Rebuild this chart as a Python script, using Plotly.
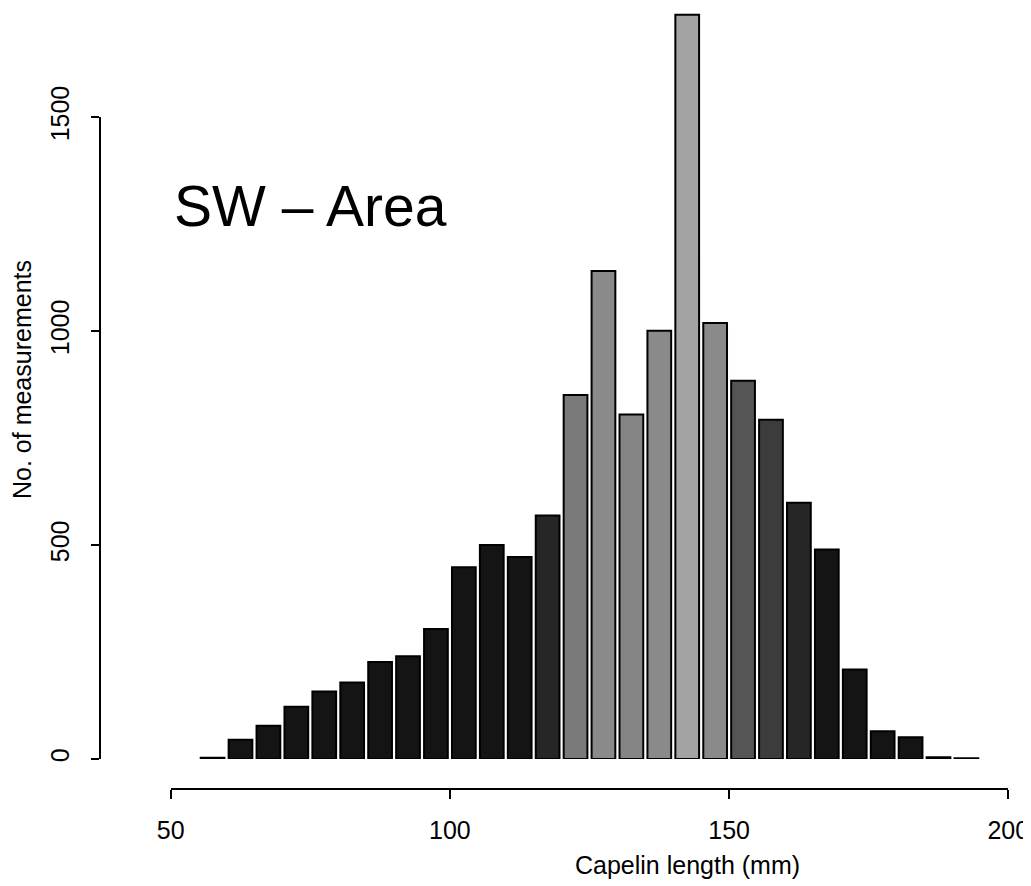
import plotly.graph_objects as go

# ---- data ----
length_bins = [57.5, 62.5, 67.5, 72.5, 77.5, 82.5, 87.5, 92.5, 97.5, 102.5,
               107.5, 112.5, 117.5, 122.5, 127.5, 132.5, 137.5, 142.5, 147.5,
               152.5, 157.5, 162.5, 167.5, 172.5, 177.5, 182.5, 187.5, 192.5]
counts = [3, 45, 78, 122, 158, 179, 227, 240, 304, 448,
          500, 472, 569, 851, 1141, 805, 1001, 1740, 1019,
          884, 793, 599, 490, 209, 65, 51, 4, 2]
bar_fill = ['#141414'] * 12 + ['#262626', '#7a7a7a', '#8a8a8a', '#858585',
            '#8a8a8a', '#a3a3a3', '#8a8a8a', '#555555', '#3c3c3c',
            '#262626'] + ['#141414'] * 6
x_ticks = [50, 100, 150, 200]
y_ticks = [0, 500, 1000, 1500]

# ---- layout geometry (page pixels; the page body has an 8px margin) ----
OFF = 8
W, H = 1031 - OFF, 886 - OFF
AX_X = 100 - OFF          # y-axis line
AX_Y = 789 - OFF          # x-axis line
ML, MR, MT = AX_X, 12, 4
MB = H - AX_Y
PW = W - ML - MR
PH = H - MT - MB
px_x50, px_x200 = 170.7 - OFF, 1008.3 - OFF
px_y0, px_y1500 = 759.0 - OFF, 117.3 - OFF
py_per_unit = (px_y0 - px_y1500) / 1500.0


def fx(px):
    return (px - ML) / PW


def fy(py):
    return (H - MB - py) / PH


y_top_val = (px_y0 - MT) / py_per_unit

font_family = "Liberation Sans, Arial, Helvetica, sans-serif"

fig = go.Figure()
fig.add_trace(go.Bar(
    x=length_bins, y=counts,
    marker=dict(color=bar_fill, line=dict(color='black', width=2)),
    xaxis='x', yaxis='y', showlegend=False, hoverinfo='x+y'))
# helper trace to register the visible y axis
fig.add_trace(go.Scatter(x=[None], y=[None], xaxis='x', yaxis='y2',
                         showlegend=False, hoverinfo='skip'))

fig.update_layout(
    width=W, height=H,
    margin=dict(l=ML, r=MR, t=MT, b=MB, autoexpand=False),
    paper_bgcolor='white', plot_bgcolor='rgba(0,0,0,0)',
    bargap=0.15,
    showlegend=False,
    font=dict(family=font_family, color='black', size=25),
    xaxis=dict(domain=[fx(px_x50), fx(px_x200)], range=[50, 200],
               anchor='free', position=0, automargin=False,
               showline=True, linecolor='black', linewidth=2,
               ticks='outside', ticklen=9, tickwidth=2, tickcolor='black',
               tickvals=x_ticks, ticktext=[str(v) for v in x_ticks],
               ticklabelstandoff=10,
               showgrid=False, zeroline=False,
               tickfont=dict(size=25, family=font_family)),
    yaxis=dict(domain=[fy(px_y0), 1], range=[0, y_top_val],
               anchor='free', position=0, automargin=False,
               visible=False, showgrid=False, zeroline=False),
    yaxis2=dict(domain=[fy(px_y0), fy(px_y1500)], range=[0, 1500],
                anchor='free', position=0, automargin=False,
                showline=True, linecolor='black', linewidth=2,
                ticks='outside', ticklen=8, tickwidth=2, tickcolor='black',
                tickvals=y_ticks, ticktext=[str(v) for v in y_ticks],
                tickangle=-90, ticklabelstandoff=12,
                showgrid=False, zeroline=False,
                tickfont=dict(size=25, family=font_family)),
    annotations=[
        dict(text='SW – Area', xref='x', yref='y', x=75.1, y=1292,
             showarrow=False, xanchor='center', yanchor='middle',
             font=dict(size=57, family=font_family, color='black')),
        dict(text='Capelin length (mm)', xref='paper', yref='paper',
             x=fx(687 - OFF), y=fy(865 - OFF), showarrow=False,
             xanchor='center', yanchor='middle',
             font=dict(size=25, family=font_family, color='black')),
        dict(text='No. of measurements', xref='paper', yref='paper',
             x=fx(22 - OFF), y=fy(380 - OFF), showarrow=False, textangle=-90,
             xanchor='center', yanchor='middle',
             font=dict(size=25, family=font_family, color='black')),
    ],
)

fig.write_html("out.html")
